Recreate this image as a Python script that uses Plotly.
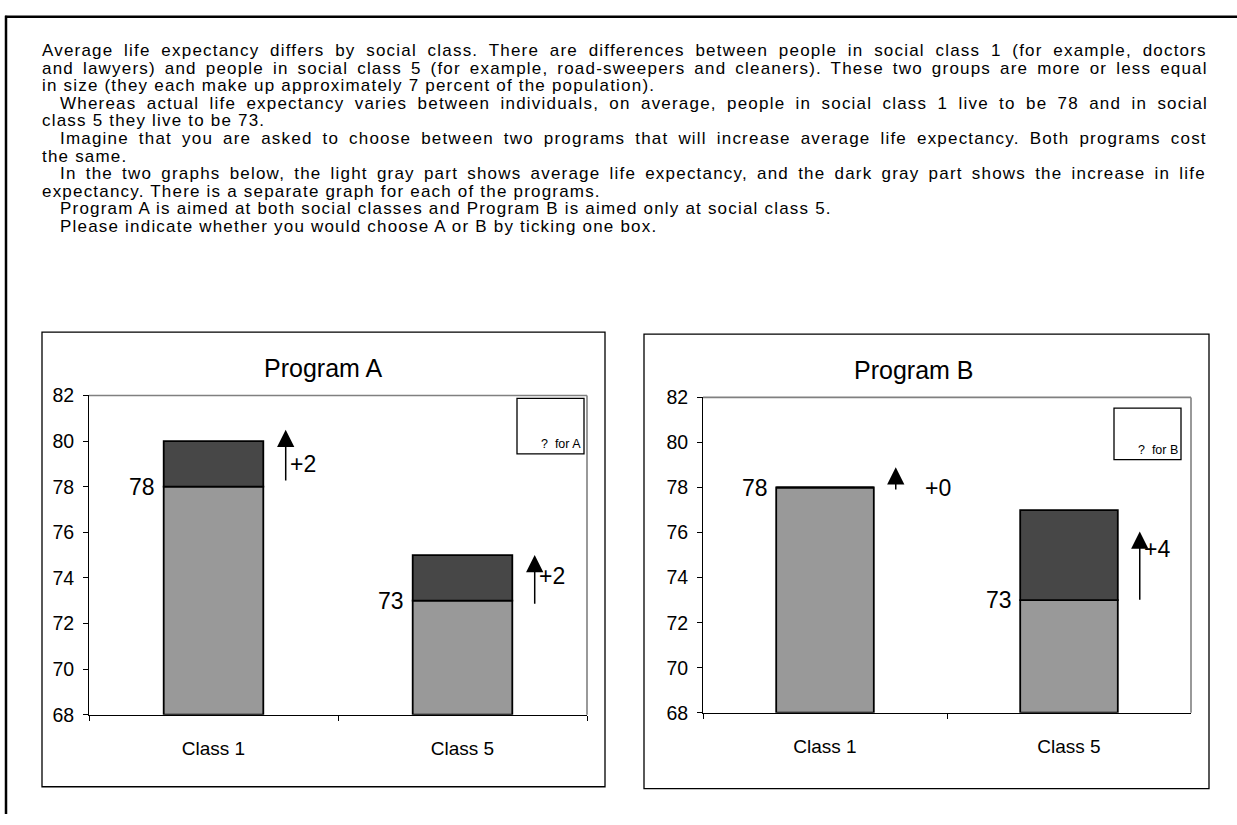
import plotly.graph_objects as go

W, H = 1237, 825

# ---- chart data -------------------------------------------------------
categories = ["Class 1", "Class 5"]
baseline = [78, 73]            # average life expectancy
increase_a = [2, 2]            # Program A gain
increase_b = [0, 4]            # Program B gain
y_ticks = [68, 70, 72, 74, 76, 78, 80, 82]
AXIS_MIN, AXIS_MAX = 68, 82

# hand-drawn arrows beside each bar (tail value, tip value)
arrow_tail_a = [78.2, 72.8]
arrow_tip_a = [80.5, 75.0]
arrow_tail_b = [77.85, 72.95]
arrow_tip_b = [78.9, 76.05]
gain_label_y_a = [79.0, 74.1]
gain_label_y_b = [78.0, 75.25]

intro_lines = [
    "Average life expectancy differs by social class. There are differences between people in social class 1 (for example, doctors",
    "and lawyers) and people in social class 5 (for example, road-sweepers and cleaners). These two groups are more or less equal",
    "in size (they each make up approximately 7 percent of the population).",
    "Whereas actual life expectancy varies between individuals, on average, people in social class 1 live to be 78 and in social",
    "class 5 they live to be 73.",
    "Imagine that you are asked to choose between two programs that will increase average life expectancy. Both programs cost",
    "the same.",
    "In the two graphs below, the light gray part shows average life expectancy, and the dark gray part shows the increase in life",
    "expectancy. There is a separate graph for each of the programs.",
    "Program A is aimed at both social classes and Program B is aimed only at social class 5.",
    "Please indicate whether you would choose A or B by ticking one box.",
]
intro_indent = [0, 0, 0, 1, 0, 1, 0, 1, 0, 1, 1]
intro_justify = [1, 1, 0, 1, 0, 1, 0, 1, 0, 0, 0]

# ---- styling ----------------------------------------------------------
FONT = "Liberation Sans, Arial, Helvetica, sans-serif"
LIGHT = "#999999"
DARK = "#474747"

# Arial / Liberation Sans advance widths (1/1000 em) used to justify lines
CHAR_W = {" ": 278, "(": 333, ")": 333, ",": 278, "-": 333, ".": 278}
CHAR_W.update({d: 556 for d in "0123456789"})
CHAR_W.update(dict(zip("ABCDEFGHIJKLMNOPQRSTUVWXYZ",
                       [667, 667, 722, 722, 667, 611, 778, 722, 278, 500, 667, 556, 833,
                        722, 778, 667, 778, 722, 667, 611, 722, 667, 944, 667, 667, 611])))
CHAR_W.update(dict(zip("abcdefghijklmnopqrstuvwxyz",
                       [556, 556, 500, 556, 556, 278, 556, 556, 222, 222, 500, 222, 833,
                        556, 556, 556, 556, 333, 500, 278, 556, 500, 722, 500, 500, 500])))


def px(x):
    return x / W


def py(y):
    return 1 - y / H


fig = go.Figure()

# ---- bars -------------------------------------------------------------
panels = [
    dict(xa="x", ya="y", inc=increase_a, tails=arrow_tail_a, tips=arrow_tip_a,
         gain_y=gain_label_y_a, gain_dx=[0.30, 0.30]),
    dict(xa="x2", ya="y2", inc=increase_b, tails=arrow_tail_b, tips=arrow_tip_b,
         gain_y=gain_label_y_b, gain_dx=[0.40, 0.30]),
]

for p in panels:
    fig.add_trace(go.Bar(
        x=categories, y=[b - AXIS_MIN for b in baseline], base=AXIS_MIN,
        marker=dict(color=LIGHT, line=dict(color="black", width=1.8)),
        xaxis=p["xa"], yaxis=p["ya"], hoverinfo="skip",
    ))
    fig.add_trace(go.Bar(
        x=categories, y=p["inc"], base=baseline,
        marker=dict(color=DARK, line=dict(color="black", width=1.8)),
        xaxis=p["xa"], yaxis=p["ya"], hoverinfo="skip",
    ))

annotations = []
shapes = []

for p in panels:
    for i, cat in enumerate(categories):
        # baseline value label left of the bar
        annotations.append(dict(
            x=i - 0.225, y=baseline[i], xref=p["xa"], yref=p["ya"],
            text=str(baseline[i]), showarrow=False, xanchor="right", yanchor="middle",
            font=dict(family=FONT, size=23, color="black"),
        ))
        # gain arrow
        annotations.append(dict(
            x=i + 0.29, y=p["tips"][i], ax=i + 0.29, ay=p["tails"][i],
            xref=p["xa"], yref=p["ya"], axref=p["xa"], ayref=p["ya"],
            text="", showarrow=True, arrowhead=2, arrowsize=2.3, arrowwidth=1.5,
            arrowcolor="black", standoff=0, startstandoff=0,
        ))
        annotations.append(dict(
            x=i + p["gain_dx"][i], y=p["gain_y"][i], xref=p["xa"], yref=p["ya"],
            text="+" + str(p["inc"][i]), showarrow=False, xanchor="left", yanchor="middle",
            font=dict(family=FONT, size=23, color="black"),
        ))

# ---- intro paragraph ---------------------------------------------------
BODY_SIZE = 17
TRACK = 1.2          # letter spacing, px
LEFT, RIGHT = 40, 1206
LINE0, LINE_STEP = 41, 18
for k, line in enumerate(intro_lines):
    x0 = LEFT + 18 * intro_indent[k]
    style = "letter-spacing:%.2fpx" % TRACK
    if intro_justify[k]:
        natural = (sum(CHAR_W.get(c, 556) for c in line) * BODY_SIZE / 1000
                   + TRACK * len(line))
        gaps = line.count(" ")
        style += ";word-spacing:%.2fpx" % ((RIGHT - x0 - natural) / gaps)
    annotations.append(dict(
        x=px(x0), y=py(LINE0 + LINE_STEP * k), xref="paper", yref="paper",
        text='<span style="%s">%s</span>' % (style, line),
        showarrow=False, xanchor="left", yanchor="middle",
        font=dict(family=FONT, size=BODY_SIZE, color="black"),
    ))

# ---- panel frames, titles, tick boxes ---------------------------------
frames = [
    dict(box=(42, 330, 605, 797), plot=(89, 395, 587, 723), title="Program A",
         title_xy=(323, 367), check=(517, 398, 584, 455), check_txt="?  for A"),
    dict(box=(644, 332, 1209, 799), plot=(703, 397, 1191, 721), title="Program B",
         title_xy=(913, 369), check=(1114, 408, 1181, 461), check_txt="?  for B"),
]
for f in frames:
    x0, y0, x1, y1 = f["box"]
    shapes.append(dict(type="rect", xref="paper", yref="paper",
                       x0=px(x0), x1=px(x1), y0=py(y0), y1=py(y1),
                       line=dict(color="black", width=1.3), layer="below"))
    a0, b0, a1, b1 = f["plot"]
    # grey top and right borders of the plotting area
    shapes.append(dict(type="line", xref="paper", yref="paper",
                       x0=px(a0), x1=px(a1), y0=py(b0), y1=py(b0),
                       line=dict(color="#808080", width=1.6), layer="below"))
    shapes.append(dict(type="line", xref="paper", yref="paper",
                       x0=px(a1), x1=px(a1), y0=py(b0), y1=py(b1),
                       line=dict(color="#808080", width=1.6), layer="below"))
    c0, d0, c1, d1 = f["check"]
    shapes.append(dict(type="rect", xref="paper", yref="paper",
                       x0=px(c0), x1=px(c1), y0=py(d0), y1=py(d1),
                       line=dict(color="black", width=1.3), fillcolor="white"))
    annotations.append(dict(
        x=px(c1 - 1), y=py(d1 - 1), xref="paper", yref="paper", text=f["check_txt"],
        showarrow=False, xanchor="right", yanchor="bottom",
        font=dict(family=FONT, size=12.5, color="black"),
    ))
    tx, ty = f["title_xy"]
    annotations.append(dict(
        x=px(tx), y=py(ty), xref="paper", yref="paper", text=f["title"],
        showarrow=False, xanchor="center", yanchor="middle",
        font=dict(family=FONT, size=25, color="black"),
    ))

# outer page frame (top and left edges)
shapes.append(dict(type="line", xref="paper", yref="paper",
                   x0=px(5), x1=1, y0=py(6), y1=py(6),
                   line=dict(color="black", width=2.5)))
shapes.append(dict(type="line", xref="paper", yref="paper",
                   x0=px(6), x1=px(6), y0=py(5), y1=0,
                   line=dict(color="black", width=2.5)))

# ---- axes ---------------------------------------------------------------
def xaxis_style(dom):
    return dict(domain=dom, type="category", categoryorder="array", categoryarray=categories,
                tickson="boundaries", ticks="outside", ticklen=5, tickcolor="black",
                showline=True, linecolor="black", linewidth=1, showgrid=False,
                zeroline=False, tickfont=dict(family=FONT, size=19, color="black"),
                ticklabelstandoff=16, fixedrange=True)


def yaxis_style(dom, anchor):
    return dict(domain=dom, anchor=anchor, range=[AXIS_MIN, AXIS_MAX], tickvals=y_ticks,
                ticks="outside", ticklen=5, tickcolor="black",
                showline=True, linecolor="black", linewidth=1, showgrid=False,
                zeroline=False, tickfont=dict(family=FONT, size=19.5, color="black"),
                ticklabelstandoff=5, fixedrange=True)


fA, fB = frames
fig.update_layout(
    width=W, height=H, margin=dict(l=0, r=0, t=0, b=0),
    paper_bgcolor="white", plot_bgcolor="rgba(0,0,0,0)",
    showlegend=False, barmode="overlay", bargap=0.6,
    xaxis=xaxis_style([px(fA["plot"][0]), px(fA["plot"][2])]) | dict(anchor="y"),
    yaxis=yaxis_style([py(fA["plot"][3]), py(fA["plot"][1])], "x"),
    xaxis2=xaxis_style([px(fB["plot"][0]), px(fB["plot"][2])]) | dict(anchor="y2"),
    yaxis2=yaxis_style([py(fB["plot"][3]), py(fB["plot"][1])], "x2"),
    annotations=annotations, shapes=shapes,
)

fig.write_html("out.html")
